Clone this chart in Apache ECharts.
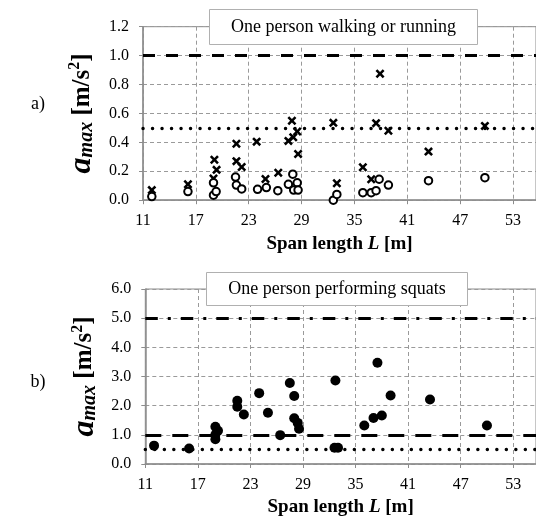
<!DOCTYPE html>
<html><head><meta charset="utf-8">
<script src="https://cdn.jsdelivr.net/npm/echarts@6/dist/echarts.min.js"></script>
<style>html,body{margin:0;padding:0;background:#fff}#c{width:536px;height:523px}</style>
</head><body><div id="c"></div>
<script>
// ---- data ----
const xTickLabels = [11, 17, 23, 29, 35, 41, 47, 53];
// a) one person walking or running : crosses
const walkCrossL = [12.0, 16.1, 19.1, 19.35, 19.0, 21.6, 21.6, 22.2, 23.9, 24.9, 26.35, 27.5, 27.9, 28.05, 28.5, 28.6, 32.6, 33.0, 35.95, 36.9, 37.45, 37.9, 38.85, 43.4, 49.8];
const walkCrossA = [0.07, 0.11, 0.28, 0.21, 0.15, 0.39, 0.27, 0.23, 0.405, 0.147, 0.19, 0.41, 0.55, 0.435, 0.475, 0.32, 0.535, 0.117, 0.228, 0.145, 0.533, 0.875, 0.48, 0.336, 0.514];
// a) open circles
const walkCircleL = [12.0, 16.1, 19.0, 19.0, 19.3, 21.5, 21.6, 22.2, 24.0, 25.0, 26.3, 27.5, 28.0, 28.1, 28.5, 28.6, 32.6, 33.0, 35.95, 36.9, 37.45, 37.8, 38.85, 43.4, 49.8];
const walkCircleA = [0.025, 0.06, 0.12, 0.035, 0.06, 0.16, 0.105, 0.078, 0.075, 0.087, 0.066, 0.11, 0.18, 0.07, 0.12, 0.07, 0.0, 0.04, 0.052, 0.052, 0.066, 0.145, 0.105, 0.135, 0.156];
// b) one person performing squats
const squatL = [12.0, 16.0, 19.0, 19.3, 19.0, 19.0, 21.5, 21.5, 22.25, 24.0, 25.0, 26.4, 27.5, 28.0, 28.0, 28.4, 28.55, 32.7, 32.6, 33.0, 36.0, 37.05, 37.5, 38.0, 39.0, 43.5, 50.0];
const squatA = [0.63, 0.53, 1.28, 1.14, 1.0, 0.85, 2.17, 1.96, 1.70, 2.43, 1.76, 0.99, 2.78, 2.33, 1.57, 1.41, 1.21, 2.86, 0.56, 0.56, 1.32, 1.58, 3.47, 1.66, 2.35, 2.21, 1.32];
// limit lines
const walkLimits = [1.0, 0.5];
const squatLimits = [5.0, 1.0, 0.5];
const walkTitle = 'One person walking or running';
const squatTitle = 'One person performing squats';

// ---- chart ----
const SERIF = '"Liberation Serif", "Times New Roman", serif';
const zip = (a, b) => a.map((v, i) => [v, b[i]]);
const crossPath = 'path://M0,2 L2,0 L5,3 L8,0 L10,2 L7,5 L10,8 L8,10 L5,7 L2,10 L0,8 L3,5 Z';

function xAxisCfg(gi) {
  return {
    type: 'value', gridIndex: gi, min: 11, max: 55.6, interval: 6,
    axisLine: { show: true, onZero: false, lineStyle: { color: '#8c8c8c', width: 1.5 } },
    axisTick: { show: true, length: 4, lineStyle: { color: '#8c8c8c' } },
    axisLabel: {
      color: '#000', fontFamily: SERIF, fontSize: 16, margin: 13, showMaxLabel: false,
      formatter: v => (xTickLabels.indexOf(v) >= 0 ? String(v) : '')
    },
    splitLine: { show: true, lineStyle: { color: '#9a9a9a', type: [4, 3], width: 1 } },
    name: '{b|Span length }{i|L}{b| [m]}', nameLocation: 'middle', nameGap: 34,
    nameTextStyle: {
      rich: {
        b: { fontFamily: SERIF, fontSize: 19, fontWeight: 'bold', color: '#000' },
        i: { fontFamily: SERIF, fontSize: 19, fontWeight: 'bold', fontStyle: 'italic', color: '#000' }
      }
    }
  };
}
function yAxisCfg(gi, max, interval) {
  return {
    type: 'value', gridIndex: gi, min: 0, max: max, interval: interval,
    axisLine: { show: true, lineStyle: { color: '#8c8c8c', width: 1.5 } },
    axisTick: { show: true, length: 4, lineStyle: { color: '#8c8c8c' } },
    axisLabel: { color: '#000', fontFamily: SERIF, fontSize: 16, margin: 14, formatter: v => v.toFixed(1) },
    splitLine: { show: true, lineStyle: { color: '#9a9a9a', type: [4, 3], width: 1 } },
    name: '{a|a}{s|max}{b| [m/s}{p|2}{b|]}', nameLocation: 'middle', nameRotate: 90, nameGap: 45,
    nameTextStyle: {
      rich: {
        a: { fontFamily: SERIF, fontSize: 32, fontWeight: 'bold', fontStyle: 'italic', color: '#000', lineHeight: 30, verticalAlign: 'middle' },
        s: { fontFamily: SERIF, fontSize: 20, fontWeight: 'bold', fontStyle: 'italic', color: '#000', lineHeight: 30, verticalAlign: 'bottom' },
        b: { fontFamily: SERIF, fontSize: 25, fontWeight: 'bold', color: '#000', lineHeight: 30, verticalAlign: 'middle' },
        p: { fontFamily: SERIF, fontSize: 16, fontWeight: 'bold', color: '#000', lineHeight: 30, verticalAlign: 'top' }
      }
    }
  };
}
const dashLong = w => ({ color: '#000', width: 3, type: w, cap: 'butt' });
const dotLine = { color: '#000', width: 3.4, type: [0.1, 9.4], cap: 'round' };

const chart = echarts.init(document.getElementById('c'), null, { renderer: 'canvas' });
chart.setOption({
  animation: false,
  backgroundColor: '#fff',
  grid: [
    { left: 143, top: 26.7, right: -1, height: 173.5, show: true, borderColor: '#8c8c8c', borderWidth: 1, backgroundColor: 'transparent' },
    { left: 145.3, top: 289, right: -1, height: 175, show: true, borderColor: '#8c8c8c', borderWidth: 1, backgroundColor: 'transparent' }
  ],
  xAxis: [xAxisCfg(0), xAxisCfg(1)],
  yAxis: [yAxisCfg(0, 1.2, 0.2), yAxisCfg(1, 6, 1)],
  series: [
    {
      type: 'scatter', xAxisIndex: 0, yAxisIndex: 0, data: zip(walkCrossL, walkCrossA),
      symbol: crossPath, symbolSize: 9, itemStyle: { color: '#000', opacity: 1 }, z: 5,
      markLine: {
        silent: true, symbol: 'none', label: { show: false },
        data: [
          { yAxis: walkLimits[0], lineStyle: dashLong([12, 11]) },
          { yAxis: walkLimits[1], lineStyle: dotLine }
        ]
      }
    },
    {
      type: 'scatter', xAxisIndex: 0, yAxisIndex: 0, data: zip(walkCircleL, walkCircleA),
      symbol: 'circle', symbolSize: 7.5, itemStyle: { color: '#fff', borderColor: '#000', borderWidth: 2, opacity: 1 }, z: 6
    },
    {
      type: 'scatter', xAxisIndex: 1, yAxisIndex: 1, data: zip(squatL, squatA),
      symbol: 'circle', symbolSize: 10, itemStyle: { color: '#000', opacity: 1 }, z: 5,
      markLine: {
        silent: true, symbol: 'none', label: { show: false },
        data: [
          { yAxis: squatLimits[0], lineStyle: dashLong([12.5, 10, 3, 10]) },
          { yAxis: squatLimits[1], lineStyle: dashLong([16, 11]) },
          { yAxis: squatLimits[2], lineStyle: dotLine }
        ]
      }
    }
  ],
  graphic: [
    { type: 'rect', z: 100, shape: { x: 209.5, y: 9.5, width: 268, height: 35 }, style: { fill: '#fff', stroke: '#b0b0b0', lineWidth: 1 } },
    { type: 'text', z: 101, x: 343.5, y: 27, style: { text: walkTitle, font: '18px ' + SERIF, fill: '#000', align: 'center', verticalAlign: 'middle' } },
    { type: 'rect', z: 100, shape: { x: 206.5, y: 272.5, width: 261, height: 33 }, style: { fill: '#fff', stroke: '#b0b0b0', lineWidth: 1 } },
    { type: 'text', z: 101, x: 337, y: 289, style: { text: squatTitle, font: '18px ' + SERIF, fill: '#000', align: 'center', verticalAlign: 'middle' } },
    { type: 'text', z: 101, x: 38, y: 104, style: { text: 'a)', font: '18px ' + SERIF, fill: '#000', align: 'center', verticalAlign: 'middle' } },
    { type: 'text', z: 101, x: 38, y: 382, style: { text: 'b)', font: '18px ' + SERIF, fill: '#000', align: 'center', verticalAlign: 'middle' } }
  ]
});
</script>
</body></html>
